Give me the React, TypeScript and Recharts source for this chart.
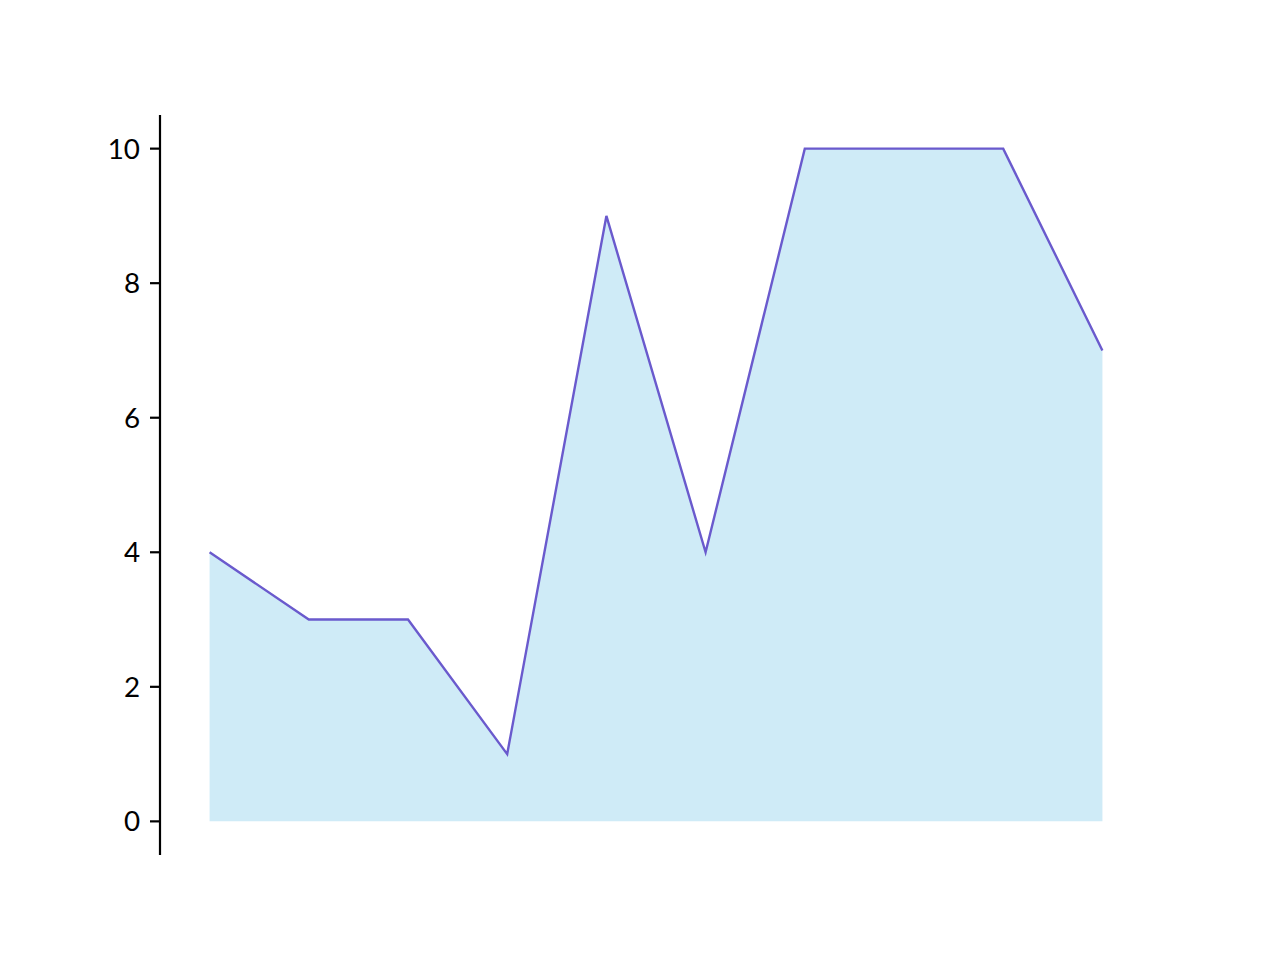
import React from 'react';
import { AreaChart, Area, Line, XAxis, YAxis } from 'recharts';

const xIndex = [0, 1, 2, 3, 4, 5, 6, 7, 8, 9];
const values = [4, 3, 3, 1, 9, 4, 10, 10, 10, 7];
const yTicks = [0, 2, 4, 6, 8, 10];

const data = xIndex.map((x, i) => ({ x, v: values[i] }));

export default function App() {
  return (
    <div style={{ position: 'absolute', left: 0, top: 0, width: 1280, height: 960, background: '#fff' }}>
      <AreaChart
        width={1280}
        height={960}
        data={data}
        margin={{ top: 115, right: 128, bottom: 105, left: 60 }}
      >
        <XAxis dataKey="x" type="number" domain={[-0.5, 9.5]} hide height={0} />
        <YAxis
          type="number"
          domain={[-0.5, 10.5]}
          ticks={yTicks}
          width={100}
          tickSize={10}
          tickMargin={10}
          axisLine={{ stroke: '#000', strokeWidth: 2.2 }}
          tickLine={{ stroke: '#000', strokeWidth: 2.2 }}
          tick={{ fill: '#000', fontFamily: 'Lato', fontSize: 27.8 }}
        />
        <Area
          dataKey="v"
          type="linear"
          baseValue={0}
          fill="#87CEEB"
          fillOpacity={0.4}
          stroke="none"
          isAnimationActive={false}
        />
        <Line
          dataKey="v"
          type="linear"
          stroke="#6A5ACD"
          strokeWidth={2.4}
          dot={false}
          activeDot={false}
          isAnimationActive={false}
        />
      </AreaChart>
    </div>
  );
}
